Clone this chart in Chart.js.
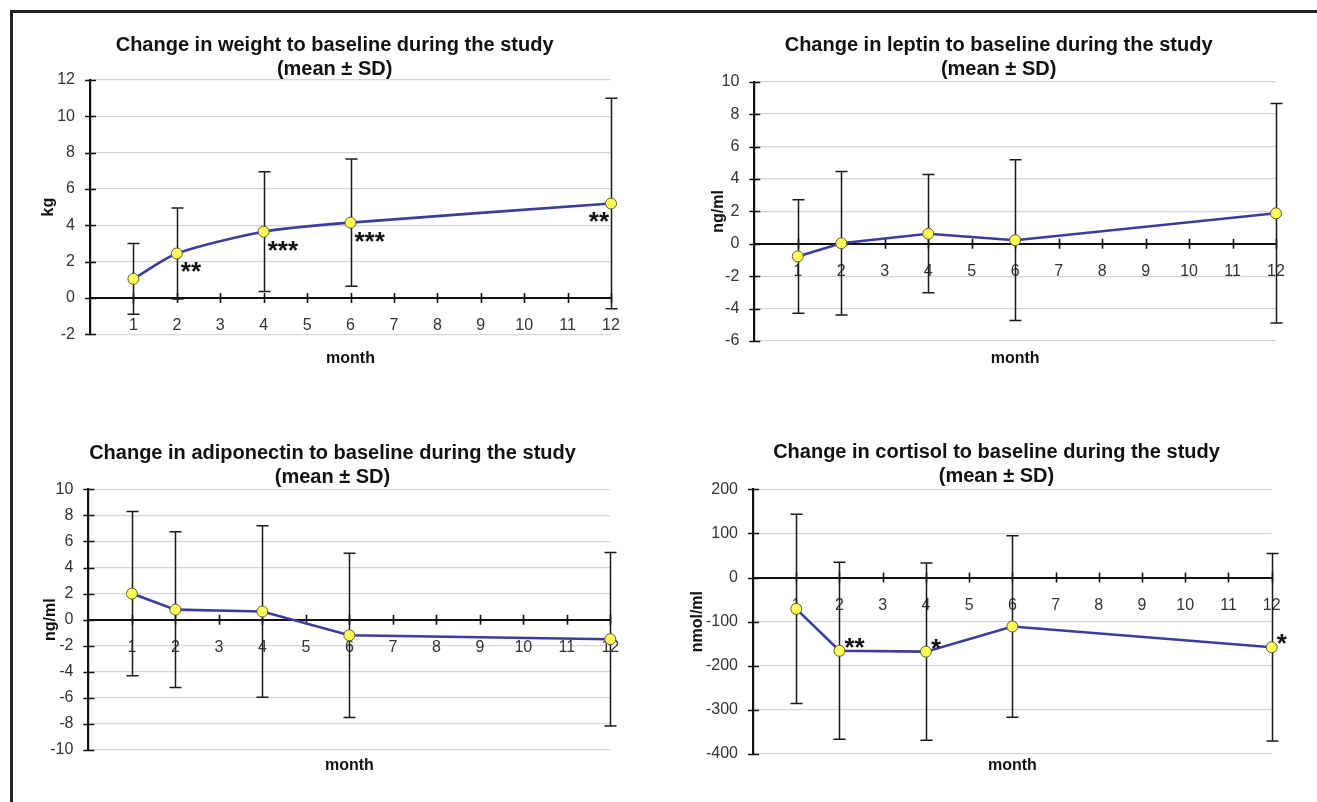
<!DOCTYPE html>
<html>
<head>
<meta charset="utf-8">
<script src="https://cdn.jsdelivr.net/npm/chart.js@4.4.1/dist/chart.umd.min.js"></script>
<style>
html, body { margin: 0; padding: 0; background: #fff; }
#page { position: relative; width: 1317px; height: 802px; overflow: hidden; background: #fff; }
#frame { position: absolute; left: 10px; top: 10px; width: 1320px; height: 800px;
         border-top: 3px solid #222; border-left: 3px solid #222; }
canvas { position: absolute; }
</style>
</head>
<body>
<div id="page">
  <div id="frame"></div>
  <canvas id="c1"></canvas>
  <canvas id="c2"></canvas>
  <canvas id="c3"></canvas>
  <canvas id="c4"></canvas>
</div>
<script>
// ---------------- data ----------------
const months = [1, 2, 4, 6, 12];
const monthTicks = [1, 2, 3, 4, 5, 6, 7, 8, 9, 10, 11, 12];
const xAxisTitle = 'month';
const subTitle = '(mean \u00B1 SD)';

const weightTitle = 'Change in weight to baseline during the study';
const weightUnit = 'kg';
const weightMean = [1.05, 2.45, 3.65, 4.15, 5.2];
const weightSD = [1.95, 2.5, 3.3, 3.5, 5.8];
const weightStars = ['', '**', '***', '***', '**'];
const weightYTicks = [-2, 0, 2, 4, 6, 8, 10, 12];

const leptinTitle = 'Change in leptin to baseline during the study';
const leptinUnit = 'ng/ml';
const leptinMean = [-0.78, 0.03, 0.62, 0.22, 1.88];
const leptinSD = [3.5, 4.43, 3.65, 4.96, 6.77];
const leptinStars = ['', '', '', '', ''];
const leptinYTicks = [-6, -4, -2, 0, 2, 4, 6, 8, 10];

const adipoTitle = 'Change in adiponectin to baseline during the study';
const adipoUnit = 'ng/ml';
const adipoMean = [2.0, 0.77, 0.62, -1.2, -1.5];
const adipoSD = [6.3, 5.98, 6.58, 6.3, 6.65];
const adipoStars = ['', '', '', '', ''];
const adipoYTicks = [-10, -8, -6, -4, -2, 0, 2, 4, 6, 8, 10];

const cortisolTitle = 'Change in cortisol to baseline during the study';
const cortisolUnit = 'nmol/ml';
const cortisolMean = [-71, -166, -168, -111, -158];
const cortisolSD = [214.5, 200.5, 201, 205.5, 212.5];
const cortisolStars = ['', '**', '*', '', '*'];
const cortisolYTicks = [-400, -300, -200, -100, 0, 100, 200];

// ---------------- layout / style (page pixels) ----------------
const FONT = "'Liberation Sans', Arial, Helvetica, sans-serif";
const panels = [
  { id: 'c1', box: [0, 0, 665, 400], cl: 90, cr: 611, ct: 80, cb: 334.3, titleX: 334.6, titleY: 45, yTitleX: 48.4, monthY: 359,
    title: weightTitle, unit: weightUnit, mean: weightMean, sd: weightSD, stars: weightStars, yTicks: weightYTicks,
    tension: 0.25, starPlace: ['', 'br', 'br', 'br', 'bl'] },
  { id: 'c2', box: [660, 0, 665, 400], cl: 754.3, cr: 1276, ct: 81.7, cb: 341, titleX: 998.6, titleY: 45, yTitleX: 718.7, monthY: 359,
    title: leptinTitle, unit: leptinUnit, mean: leptinMean, sd: leptinSD, stars: leptinStars, yTicks: leptinYTicks,
    tension: 0, starPlace: ['', '', '', '', ''] },
  { id: 'c3', box: [0, 400, 665, 402], cl: 88.4, cr: 610.3, ct: 489.3, cb: 750, titleX: 332.5, titleY: 453, yTitleX: 50.5, monthY: 766,
    title: adipoTitle, unit: adipoUnit, mean: adipoMean, sd: adipoSD, stars: adipoStars, yTicks: adipoYTicks,
    tension: 0, starPlace: ['', '', '', '', ''] },
  { id: 'c4', box: [660, 400, 665, 402], cl: 753, cr: 1271.7, ct: 489.3, cb: 754, titleX: 996.5, titleY: 452, yTitleX: 697.5, monthY: 766,
    title: cortisolTitle, unit: cortisolUnit, mean: cortisolMean, sd: cortisolSD, stars: cortisolStars, yTicks: cortisolYTicks,
    tension: 0, starPlace: ['', 'tr', 'tr', '', 'tr'] }
];
const STAR_OFFSETS = { br: [4, 12, 'left'], bl: [-2, 11, 'right'], tr: [5, -10, 'left'] };
const Y_SCALE_SPAN = 72;   // room left of the y axis for tick labels and unit title

// ---------------- plugins ----------------
const decorPlugin = {
  id: 'decor',
  beforeDatasetsDraw(chart) {
    const o = chart.options.plugins.decor;
    const ctx = chart.ctx, xs = chart.scales.x, ys = chart.scales.y;
    const zeroY = ys.getPixelForValue(0);
    const axisX = chart.chartArea.left;
    ctx.save();
    ctx.strokeStyle = '#111';
    ctx.lineWidth = 1.6;
    ctx.beginPath();
    // y-axis crossing tick marks
    o.yTicks.forEach(v => {
      const y = Math.round(ys.getPixelForValue(v)) + 0.5;
      ctx.moveTo(axisX - 5, y); ctx.lineTo(axisX + 6, y);
    });
    // x-axis crossing tick marks on the zero line
    o.xTicks.forEach(v => {
      const x = Math.round(xs.getPixelForValue(v)) + 0.5;
      ctx.moveTo(x, zeroY - 5); ctx.lineTo(x, zeroY + 5);
    });
    ctx.stroke();
    // error bars (mean +/- SD)
    ctx.strokeStyle = '#1a1a1a';
    ctx.lineWidth = 1.5;
    ctx.beginPath();
    o.xs.forEach((xv, i) => {
      const x = Math.round(xs.getPixelForValue(xv)) + 0.5;
      const yT = ys.getPixelForValue(o.mean[i] + o.sd[i]);
      const yB = ys.getPixelForValue(o.mean[i] - o.sd[i]);
      ctx.moveTo(x, yT); ctx.lineTo(x, yB);
      ctx.moveTo(x - 6, yT); ctx.lineTo(x + 6, yT);
      ctx.moveTo(x - 6, yB); ctx.lineTo(x + 6, yB);
    });
    ctx.stroke();
    ctx.restore();
  },
  afterDatasetsDraw(chart) {
    const o = chart.options.plugins.decor;
    const ctx = chart.ctx, xs = chart.scales.x, ys = chart.scales.y;
    ctx.save();
    ctx.fillStyle = '#111';
    ctx.font = 'bold 26px ' + FONT;
    ctx.textBaseline = 'alphabetic';
    o.stars.forEach((s, i) => {
      if (!s) return;
      const pl = o.starOffsets[o.starPlace[i]];
      const px = xs.getPixelForValue(o.xs[i]);
      const py = ys.getPixelForValue(o.mean[i]);
      ctx.textAlign = pl[2];
      ctx.fillText(s, px + pl[0], py + pl[1] + 15);
    });
    ctx.restore();
  }
};

// ---------------- charts ----------------
panels.forEach(p => {
  const [cx, cy, w, h] = p.box;
  const cv = document.getElementById(p.id);
  cv.width = w; cv.height = h;
  cv.style.left = cx + 'px'; cv.style.top = cy + 'px';
  cv.style.width = w + 'px'; cv.style.height = h + 'px';

  // y scale box starts Y_SCALE_SPAN left of the plot
  const pl = p.cl - Y_SCALE_SPAN - cx;
  const yW = Y_SCALE_SPAN;
  // title box spans [pl, w - pr]; centred on titleX
  const titleRight = 2 * (p.titleX - cx) - pl;
  const pr = w - titleRight;
  const extraR = titleRight - (p.cr - cx);   // empty right-hand box
  const pt = p.titleY - 12 - cy;
  const titlePadBottom = p.ct - cy - pt - 48;
  const yTitlePadTop = p.yTitleX - (cx + pl) - 9.6;
  const hB = p.monthY + 9.6 - p.cb;
  const pb = cy + h - p.cb - hB;

  new Chart(cv, {
    type: 'line',
    data: {
      datasets: [{
        data: months.map((m, i) => ({ x: m, y: p.mean[i] })),
        borderColor: '#3c3c9e',
        borderWidth: 2.6,
        tension: p.tension,
        fill: false,
        clip: false,
        pointRadius: 5.5,
        pointBackgroundColor: '#ffff55',
        pointBorderColor: '#5a5a3a',
        pointBorderWidth: 1
      }]
    },
    options: {
      responsive: false,
      animation: false,
      devicePixelRatio: 1,
      layout: { padding: { left: pl, right: pr, top: pt, bottom: pb } },
      plugins: {
        legend: { display: false },
        tooltip: { enabled: false },
        title: {
          display: true,
          text: [p.title, subTitle],
          color: '#111',
          font: { family: FONT, size: 20, weight: 'bold', lineHeight: 1.2 },
          padding: { top: 0, bottom: titlePadBottom }
        },
        decor: {
          xs: months, mean: p.mean, sd: p.sd, stars: p.stars, starPlace: p.starPlace,
          starOffsets: STAR_OFFSETS, yTicks: p.yTicks, xTicks: monthTicks
        }
      },
      scales: {
        x: {
          type: 'linear',
          min: 0, max: 12,
          position: { y: 0 },
          afterBuildTicks: s => { s.ticks = monthTicks.map(v => ({ value: v })); },
          grid: { display: false, drawTicks: false },
          border: { display: true, color: '#111', width: 2 },
          ticks: { color: '#333', padding: 18.5, font: { family: FONT, size: 16 }, maxRotation: 0, autoSkip: false }
        },
        x2: {
          type: 'linear', axis: 'x',
          min: 0, max: 12,
          position: 'bottom',
          afterFit: s => { s.height = hB; },
          grid: { display: false, drawTicks: false },
          border: { display: false },
          ticks: { display: false },
          title: { display: true, text: xAxisTitle, color: '#111',
                   font: { family: FONT, size: 16, weight: 'bold', lineHeight: 1.2 },
                   padding: { top: 0, bottom: 0 } }
        },
        y: {
          type: 'linear',
          position: 'left',
          min: p.yTicks[0], max: p.yTicks[p.yTicks.length - 1],
          afterBuildTicks: s => { s.ticks = p.yTicks.map(v => ({ value: v })); },
          afterFit: s => { s.width = yW; },
          grid: { color: '#d6d6d6', lineWidth: 1.3, drawTicks: false },
          border: { display: true, color: '#111', width: 2.2 },
          ticks: { color: '#333', padding: 15, font: { family: FONT, size: 16 } },
          title: { display: true, text: p.unit, color: '#111',
                   font: { family: FONT, size: 16, weight: 'bold', lineHeight: 1.2 },
                   padding: { top: yTitlePadTop, bottom: 0 } }
        },
        yR: {
          type: 'linear', axis: 'y',
          position: 'right',
          min: p.yTicks[0], max: p.yTicks[p.yTicks.length - 1],
          afterFit: s => { s.width = extraR; },
          grid: { display: false, drawTicks: false },
          border: { display: false },
          ticks: { display: false }
        }
      }
    },
    plugins: [decorPlugin]
  });
});
</script>
</body>
</html>
